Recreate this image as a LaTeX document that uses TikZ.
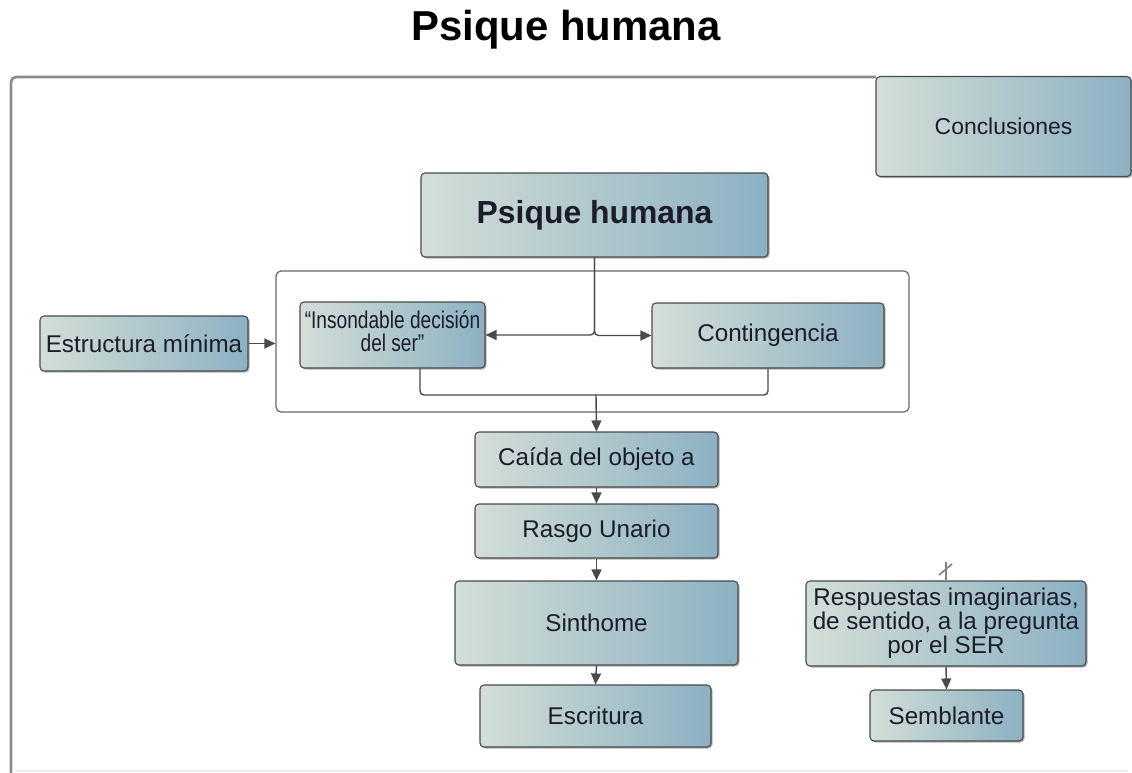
\documentclass[tikz,border=0pt]{standalone}
\usepackage{fontspec}
\setmainfont{Liberation Sans}
\usetikzlibrary{arrows.meta,shadows}
\definecolor{boxlight}{HTML}{D3DED7}
\definecolor{boxmid}{HTML}{A9C4CB}
\definecolor{boxdark}{HTML}{8CB1C2}
\definecolor{edge}{HTML}{4A4A4A}
\definecolor{txt}{HTML}{1C1C2A}
\tikzset{
  box/.style={draw=edge, line width=1.1bp, rounded corners=4bp,
    left color=boxlight, middle color=boxmid, right color=boxdark,
    drop shadow={shadow xshift=1.5bp, shadow yshift=-1.5bp, opacity=0.3, fill=black},
    align=center, inner sep=2bp, text=txt,
    font=\fontsize{24.3}{24}\selectfont},
  conn/.style={draw=edge, line width=1.4bp},
  arr/.style={conn, -{Triangle[length=11bp,width=10bp]}},
  groupbox/.style={draw=black!60, line width=1.2bp, rounded corners=5bp}
}
\begin{document}
\begin{tikzpicture}[x=1bp,y=-1bp]
\useasboundingbox (0,0) rectangle (1132,773);
% title
\node[font=\fontsize{42}{44}\bfseries\selectfont, text=black] (title) at (566,30) {Psique humana};
% outer frame
\draw[black!45, line width=2.8bp, rounded corners=5bp] (11,773) -- (11,77) -- (876,77);
\draw[black!8, line width=1.2bp] (15,771) -- (1128,771);
% group box
\node[groupbox, minimum width=633bp, minimum height=141bp] (grp) at (592.5,341.5) {};
% nodes
\node[box, minimum width=255bp, minimum height=100bp, font=\fontsize{23}{24}\selectfont] (concl) at (1003.5,126.5) {Conclusiones};
\node[box, minimum width=347bp, minimum height=84bp, font=\fontsize{32}{34}\bfseries\selectfont] (psique) at (594.5,215) {Psique humana};
\node[box, minimum width=208bp, minimum height=55bp] (estr) at (144,343.5) {Estructura mínima};
\node[box, minimum width=185bp, minimum height=66bp] (inso) at (392.5,335) {\scalebox{0.79}[1]{\begin{tabular}{@{}c@{}}“Insondable decisión\\[-2bp]del ser”\end{tabular}}};
\node[box, minimum width=232bp, minimum height=65bp] (cont) at (768,335.5) {Contingencia};
\node[box, minimum width=243bp, minimum height=55bp] (caida) at (596.5,459.5) {Caída del objeto a};
\node[box, minimum width=243bp, minimum height=54bp] (rasgo) at (596.5,531) {Rasgo Unario};
\node[box, minimum width=283bp, minimum height=84bp] (sinth) at (596.5,623) {Sinthome};
\node[box, minimum width=231bp, minimum height=62bp] (escr) at (595.5,716) {Escritura};
\node[box, minimum width=280bp, minimum height=85bp] (resp) at (946,623.5) {Respuestas imaginarias,\\de sentido, a la pregunta\\por el SER};
\node[box, minimum width=153bp, minimum height=51bp] (sembl) at (946.5,715.5) {Semblante};
% connectors
\draw[arr, rounded corners=4bp] (psique.south) |- (inso.east);
\draw[arr, rounded corners=4bp] (psique.south) |- (cont.west);
\coordinate (jb) at (596,395);
\draw[conn, rounded corners=4bp] ([xshift=27.5bp]inso.south) |- (jb) -| (cont.south);
\draw[arr] (jb) -- (caida.north);
\draw[arr] (estr.east) -- (estr.east -| grp.west);
\draw[arr] (caida.south) -- (rasgo.north);
\draw[arr] (rasgo.south) -- (sinth.north);
\draw[arr] (sinth.south) -- (escr.north);
\draw[arr] (resp.south) -- (sembl.north);
\coordinate (rtop) at (946,562);
\draw[black!50, line width=2.2bp] (rtop) -- (resp.north);
\draw[black!50, line width=1.6bp] (939,575) -- (952,564);
\end{tikzpicture}
\end{document}
